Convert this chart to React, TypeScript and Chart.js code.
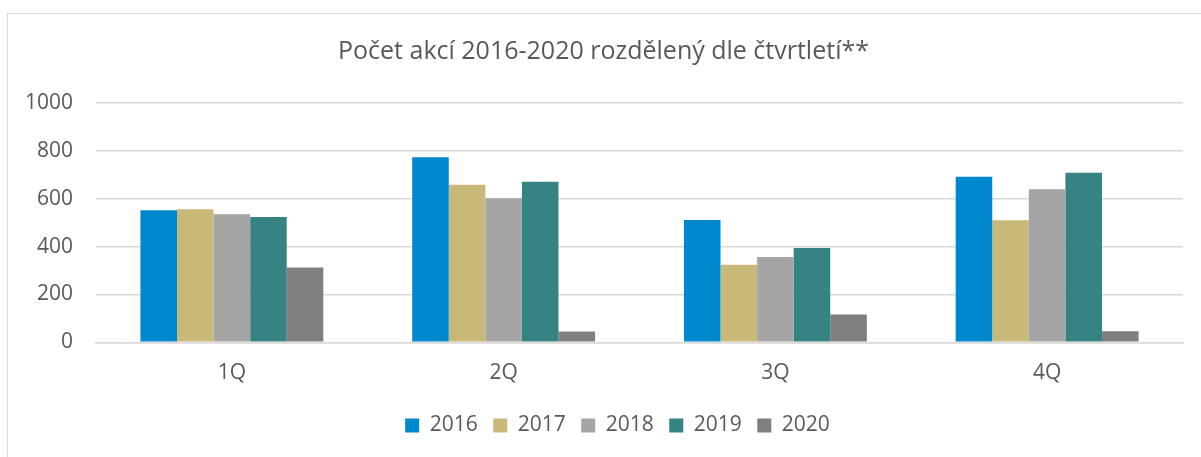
import React, { useEffect, useRef } from "react";
import { Chart, registerables } from "chart.js";

Chart.register(...registerables);

const categories = ["1Q", "2Q", "3Q", "4Q"];
const seriesLabels = ["2016", "2017", "2018", "2019", "2020"];
const values2016 = [552, 773, 511, 692];
const values2017 = [556, 658, 324, 510];
const values2018 = [535, 602, 356, 640];
const values2019 = [524, 671, 394, 709];
const values2020 = [313, 45, 116, 46];
const yTicks = [0, 200, 400, 600, 800, 1000];
const titleText = "Počet akcí 2016-2020 rozdělený dle čtvrtletí**";

const colors = ["#0088CE", "#C9B978", "#A5A5A5", "#358483", "#7F7F7F"];
const textColor = "#595959";
const fontFamily = "'Open Sans', sans-serif";

const shiftPlugin = {
  id: "shiftBlocks",
  afterLayout(chart: any) {
    const t = chart.titleBlock;
    if (t) {
      t.left += 12;
      t.right += 12;
    }
    const l = chart.legend;
    if (l) {
      l.left += 26;
      l.right += 26;
      l.top -= 5;
      l.bottom -= 5;
    }
  },
};

export default function App() {
  const ref = useRef<HTMLCanvasElement | null>(null);

  useEffect(() => {
    if (!ref.current) return;
    const allValues = [values2016, values2017, values2018, values2019, values2020];
    const chart = new Chart(ref.current, {
      type: "bar",
      data: {
        labels: categories,
        datasets: seriesLabels.map((l, i) => ({
          label: l,
          data: allValues[i],
          backgroundColor: colors[i],
          borderWidth: 0,
          categoryPercentage: 0.673,
          barPercentage: 1,
        })),
      },
      plugins: [shiftPlugin],
      options: {
        responsive: false,
        animation: false,
        layout: { padding: { top: 26, right: 18, bottom: 6, left: 0 } },
        plugins: {
          tooltip: { enabled: false },
          title: {
            display: true,
            text: titleText,
            color: textColor,
            font: { family: fontFamily, size: 25, weight: "normal" },
            padding: { top: 11, bottom: 36 },
          },
          legend: {
            position: "bottom",
            labels: {
              color: textColor,
              font: { family: fontFamily, size: 21 },
              boxWidth: 14,
              boxHeight: 14,
              padding: 15.5,
            },
          },
        },
        scales: {
          x: {
            grid: { display: false, drawTicks: false },
            border: { display: true, color: "#d9d9d9", width: 1.5 },
            ticks: {
              color: textColor,
              font: { family: fontFamily, size: 21 },
              padding: 18.5,
            },
          },
          y: {
            min: 0,
            max: 1000,
            afterFit: (s: any) => {
              s.width = 96;
            },
            afterBuildTicks: (s: any) => {
              s.ticks = yTicks.map((v) => ({ value: v }));
            },
            grid: { color: "#d9d9d9", lineWidth: 1.5, drawTicks: false },
            border: { display: false },
            ticks: {
              color: textColor,
              font: { family: fontFamily, size: 21 },
              padding: 23,
              callback: (v: any) => String(v),
            },
          },
        },
      },
    });
    return () => chart.destroy();
  }, []);

  return (
    <div style={{ position: "fixed", left: 0, top: 0, width: 1201, height: 457, background: "#fff" }}>
      <div
        style={{
          position: "absolute",
          left: 7,
          top: 13,
          width: 1201,
          height: 457,
          borderLeft: "1px solid #d9d9d9",
          borderTop: "1px solid #d9d9d9",
        }}
      />
      <canvas ref={ref} width={1201} height={457} style={{ position: "absolute", left: 0, top: 0 }} />
    </div>
  );
}
